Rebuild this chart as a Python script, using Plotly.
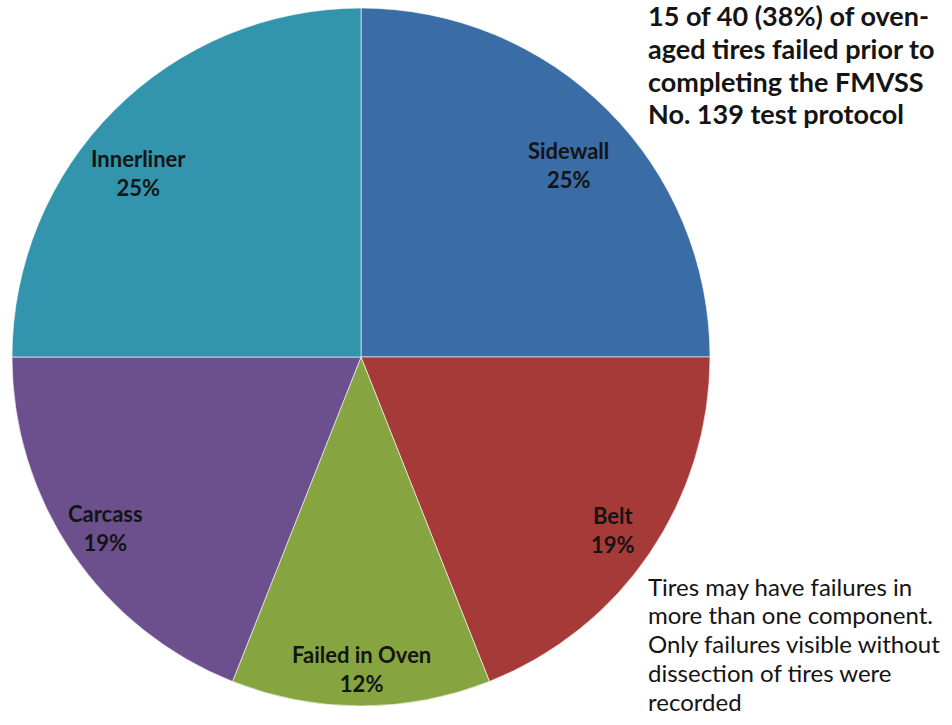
import math
import plotly.graph_objects as go

# Failure locations of oven-aged tires (share of failures, %)
components = ["Sidewall", "Belt", "Failed in Oven", "Carcass", "Innerliner"]
shares = [25, 19, 12, 19, 25]
colors = ["#3A6DA6", "#A63A38", "#86A540", "#6C4F8D", "#3394AE"]

headline = ["15 of 40 (38%) of oven-", "aged tires failed prior to",
            "completing the FMVSS", "No. 139 test protocol"]
footnote = ["Tires may have failures in", "more than one component.",
            "Only failures visible without", "dissection of tires were", "recorded"]

W, H = 952, 725
cx, cy, R = 361, 357, 349  # pie centre and radius in pixels
FONT = "Lato, 'Open Sans', sans-serif"
INK = "#141414"

fig = go.Figure(go.Pie(
    labels=components,
    values=shares,
    sort=False,
    direction="clockwise",
    rotation=0,
    marker=dict(colors=colors, line=dict(color="rgba(255,255,255,0.6)", width=1)),
    textinfo="none",
    hoverinfo="label+percent",
    showlegend=False,
    domain=dict(x=[(cx - R) / W, (cx + R) / W], y=[(H - cy - R) / H, (H - cy + R) / H]),
))

# Slice labels placed near each slice's mid-angle (radius fraction, angle nudge in degrees)
label_radius = [0.81, 0.876, 0.894, 0.881, 0.826]
label_nudge = [2.3, 0.3, 0.0, 0.5, -5.4]
total = sum(shares)
start = 0.0
annotations = []
for name, v, rf, nd in zip(components, shares, label_radius, label_nudge):
    mid = (start + v / 2) / total * 2 * math.pi + math.radians(nd)
    start += v
    px = cx + rf * R * math.sin(mid)
    py = cy - rf * R * math.cos(mid)
    annotations.append(dict(
        x=px / W, y=1 - py / H, xref="paper", yref="paper",
        text=f"<b>{name}<br>{v}%</b>", showarrow=False,
        font=dict(family=FONT, size=22, color=INK),
        align="center", xanchor="center", yanchor="middle",
    ))

# Headline block, top right
for i, line in enumerate(headline):
    annotations.append(dict(
        x=646 / W, y=1 - (16 + 32.5 * i) / H, xref="paper", yref="paper",
        text=f"<b>{line}</b>", showarrow=False, align="left",
        xanchor="left", yanchor="middle",
        font=dict(family=FONT, size=27, color=INK),
    ))

# Footnote block, bottom right
for i, line in enumerate(footnote):
    annotations.append(dict(
        x=646 / W, y=1 - (586 + 28.8 * i) / H, xref="paper", yref="paper",
        text=line, showarrow=False, align="left",
        xanchor="left", yanchor="middle",
        font=dict(family=FONT, size=24, color=INK),
    ))

fig.update_layout(
    width=W, height=H,
    margin=dict(l=0, r=0, t=0, b=0),
    paper_bgcolor="white", plot_bgcolor="white",
    annotations=annotations,
)

fig.write_html("out.html")
